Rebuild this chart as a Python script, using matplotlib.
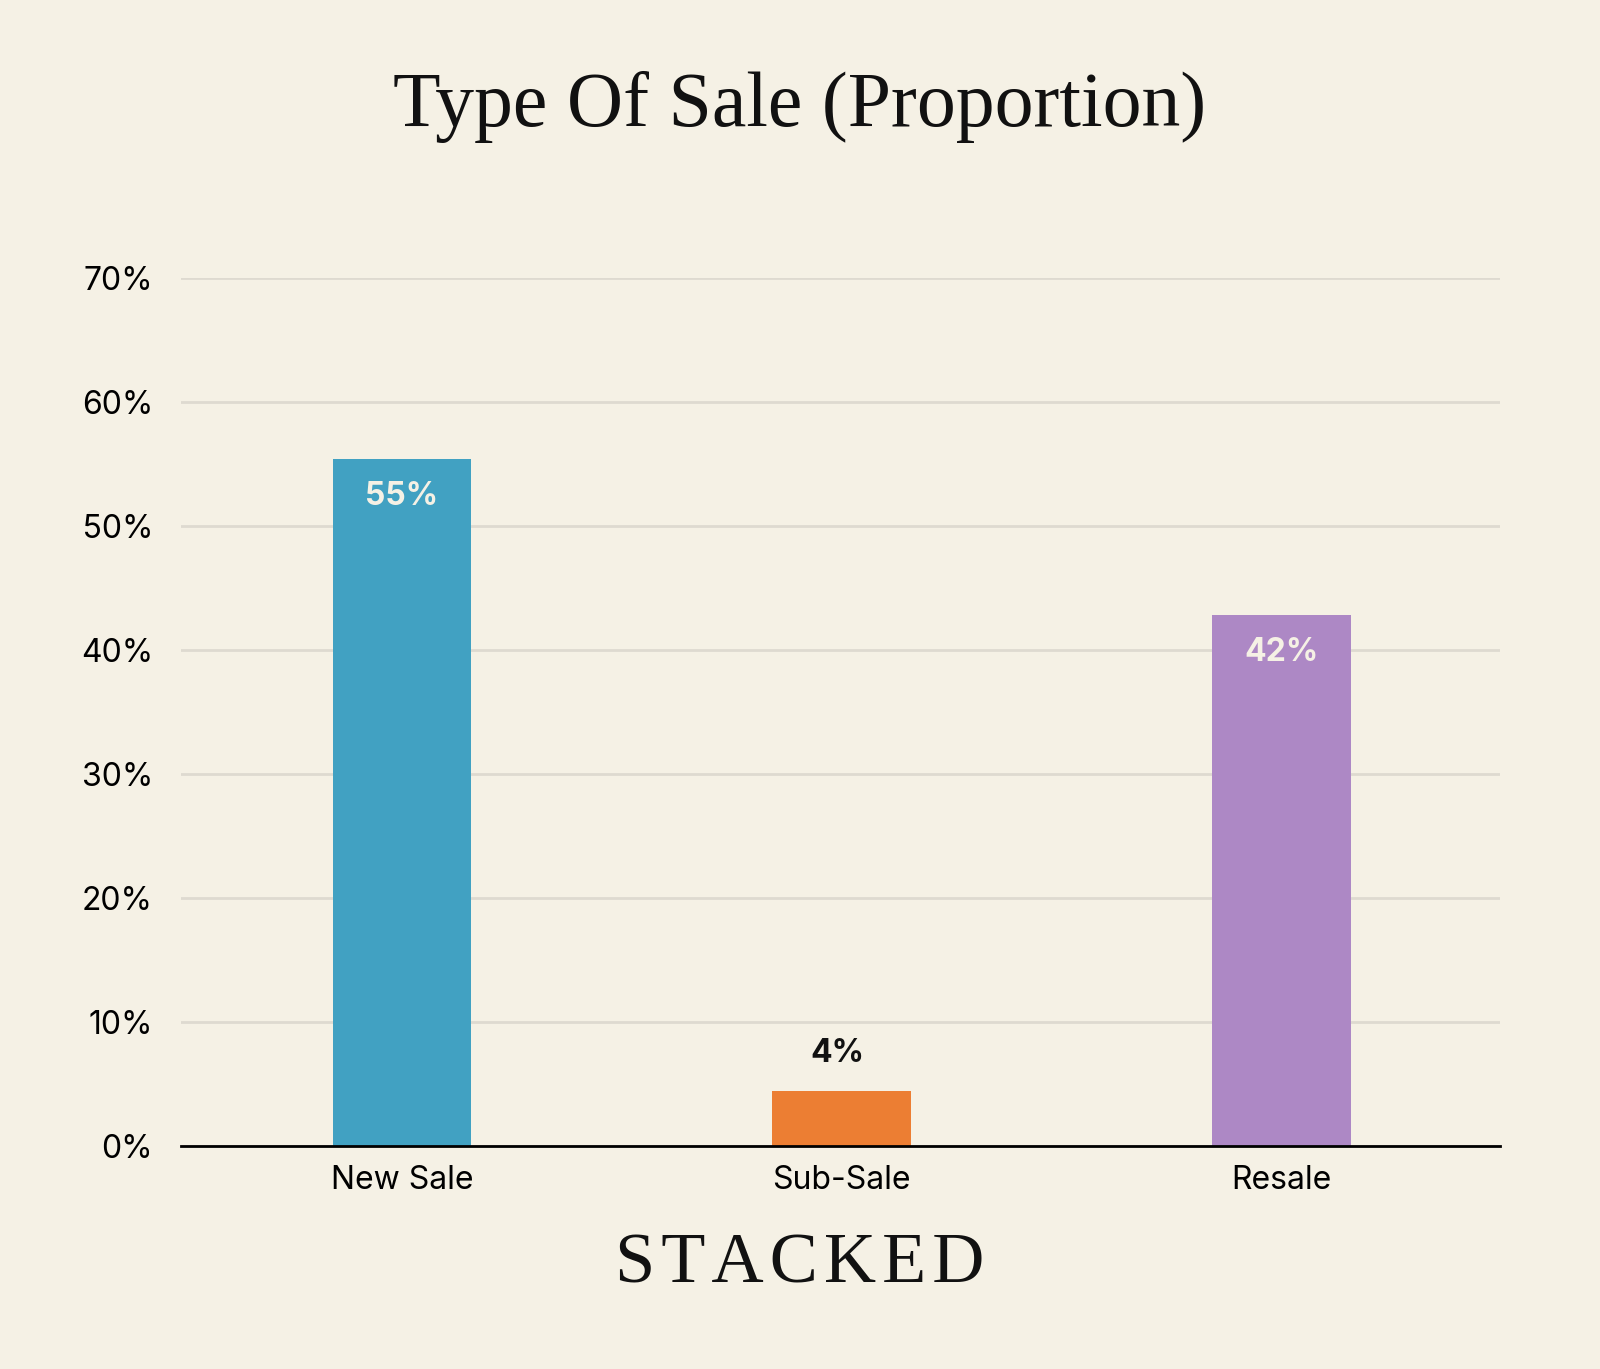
import matplotlib
matplotlib.use("Agg")
import matplotlib.pyplot as plt

categories = ["New Sale", "Sub-Sale", "Resale"]
values = [55.4, 4.45, 42.8]
labels = ["55%", "4%", "42%"]
colors = ["#41A1C2", "#EC7E33", "#AD88C5"]
yticks = [0, 10, 20, 30, 40, 50, 60, 70]

bg = "#F5F1E5"
fig = plt.figure(figsize=(16, 13.69), dpi=100, facecolor=bg)
ax = fig.add_axes([0.113, 0.163, 0.8245, 0.634], facecolor=bg)
x = range(len(categories))
ax.bar(x, values, width=0.316, color=colors, zorder=3)
ax.set_xlim(-0.503, 2.497)
ax.set_ylim(0, 70)
ax.set_yticks(yticks)
ax.set_yticklabels([f"{t}%" for t in yticks], fontsize=23, fontfamily="Inter")
ax.set_xticks(list(x))
ax.set_xticklabels(categories, fontsize=23, fontfamily="Inter")
ax.tick_params(length=0, pad=14)
ax.tick_params(axis="y", pad=20)
ax.grid(axis="y", color="#DEDAD0", lw=2, zorder=0)
for s in ["top", "right", "left"]:
    ax.spines[s].set_visible(False)
ax.spines["bottom"].set_linewidth(2)
ax.spines["bottom"].set_zorder(4)
for i, (v, l) in enumerate(zip(values, labels)):
    if v > 10:
        ax.text(i, v - 3, l, ha="center", va="center", color="#F5F1E5",
                fontsize=23, fontweight="bold", fontfamily="Inter")
    else:
        ax.text(i - 0.01, v + 3, l, ha="center", va="center", color="#111111",
                fontsize=23, fontweight="bold", fontfamily="Inter")
fig.text(0.5, 0.922, "Type Of Sale (Proportion)", ha="center", va="center",
         fontsize=56, fontfamily="Liberation Serif", color="#111111")
fig.text(0.5, 0.076, "S T A C K E D".replace(" ", "\u200a"), ha="center", va="center",
         fontsize=52, fontfamily="Liberation Serif", color="#111111")
fig.savefig("out.png", facecolor=bg)
